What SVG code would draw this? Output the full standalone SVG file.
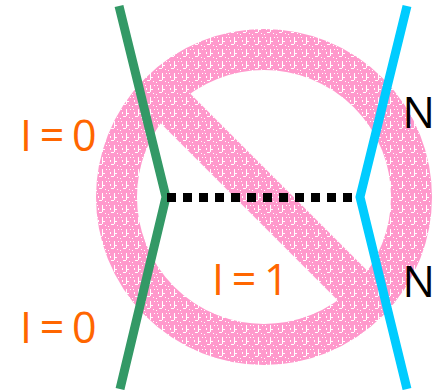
<svg xmlns="http://www.w3.org/2000/svg" width="438" height="390" viewBox="0 0 438 390">
<style>
.lbl{font-family:"Open Sans","Noto Sans",sans-serif;font-size:43px;fill:#ff6600;word-spacing:-3.5px}
.n{font-family:"Open Sans","Noto Sans",sans-serif;font-size:43px;fill:#000}
.conn{fill:none;stroke-width:9}
</style>
<defs>
<pattern id="p" width="12" height="12" patternUnits="userSpaceOnUse">
<rect width="12" height="12" fill="#ff99cc"/>
<path d="M6 1h1v7h-1zM7 5h2v1h-2zM3 8h3v1h-3zM2 4h1v2h-1zM10 1h1v1h-1zM0 10h1v1h-1zM9 9h1v1h-1zM1 1h1v1h-1z" fill="#fff"/>
</pattern>
</defs>
<g id="prohibit">
<circle cx="264" cy="197" r="147.5" fill="none" stroke="url(#p)" stroke-width="41"/>
<path d="M160 93L368 301" fill="none" stroke="url(#p)" stroke-width="42"/>
</g>
<g id="connectors">
<path class="conn" d="M119 6L166 197L120 389" stroke="#339966"/>
<path class="conn" d="M407 6L360 197L407 389" stroke="#00ccff"/>
<path d="M167 197.5H352" fill="none" stroke="#000" stroke-width="9" stroke-dasharray="9 7"/>
</g>
<g id="label-i0-top"><text class="lbl" x="20" y="151">I = 0</text></g>
<g id="label-i0-bottom"><text class="lbl" x="20" y="343">I = 0</text></g>
<g id="label-i1"><text class="lbl" x="212" y="295">I = 1</text></g>
<g id="label-n-top"><text class="n" x="402.500" y="128">N</text></g>
<g id="label-n-bottom"><text class="n" x="402.500" y="297">N</text></g>
</svg>
